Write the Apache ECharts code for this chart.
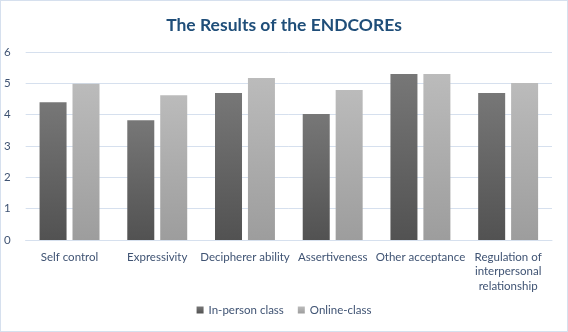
<!DOCTYPE html>
<html><head><meta charset="utf-8">
<script src="https://cdn.jsdelivr.net/npm/echarts@6/dist/echarts.min.js"></script>
<style>
html,body{margin:0;padding:0;background:#fff;}
#c{width:566px;height:330px;border:1px solid #d6e0ee;}
</style></head>
<body><div id="c"></div>
<script>
const categories = ['Self control','Expressivity','Decipherer ability','Assertiveness','Other acceptance','Regulation of\ninterpersonal\nrelationship'];
const inPerson = [4.40, 3.82, 4.69, 4.02, 5.30, 4.69];
const online = [4.99, 4.62, 5.17, 4.79, 5.30, 5.01];
const seriesNames = ['In-person class','Online-class'];
const yTicks = [0,1,2,3,4,5,6];

const txt = '#3f5373';
const font = 'Lato, "Open Sans", sans-serif';
const chart = echarts.init(document.getElementById('c'));
chart.setOption({
  animation:false,
  title:{text:'The Results of the ENDCOREs',left:'center',top:10,
    textStyle:{color:'#1f4e79',fontSize:17.5,fontWeight:'bold',fontFamily:font}},
  grid:{left:24,right:15,top:51,bottom:91,containLabel:false},
  legend:{bottom:10,left:'center',itemWidth:7,itemHeight:7,itemGap:14,icon:'rect',
    textStyle:{color:txt,fontSize:11.5,fontFamily:font},data:seriesNames},
  xAxis:{type:'category',data:categories,
    axisLine:{lineStyle:{color:'#d6e0ee',width:1}},axisTick:{show:false},
    axisLabel:{color:txt,fontSize:11.5,fontFamily:font,interval:0,margin:10,lineHeight:14.5}},
  yAxis:{type:'value',min:0,max:6,interval:1,
    axisLabel:{color:txt,fontSize:11.5,fontFamily:font,margin:15,
      formatter:v=>yTicks.includes(v)?String(v):''},
    splitLine:{lineStyle:{color:'#d6e0ee',width:1}},axisLine:{show:false},axisTick:{show:false}},
  series:[
    {name:seriesNames[0],type:'bar',data:inPerson,barWidth:27,barGap:'22%',
      itemStyle:{color:new echarts.graphic.LinearGradient(0,0,0,1,[{offset:0,color:'#777777'},{offset:1,color:'#525252'}])}},
    {name:seriesNames[1],type:'bar',data:online,barWidth:27,
      itemStyle:{color:new echarts.graphic.LinearGradient(0,0,0,1,[{offset:0,color:'#bbbbbb'},{offset:1,color:'#9d9d9d'}])}}
  ]
});
</script></body></html>
